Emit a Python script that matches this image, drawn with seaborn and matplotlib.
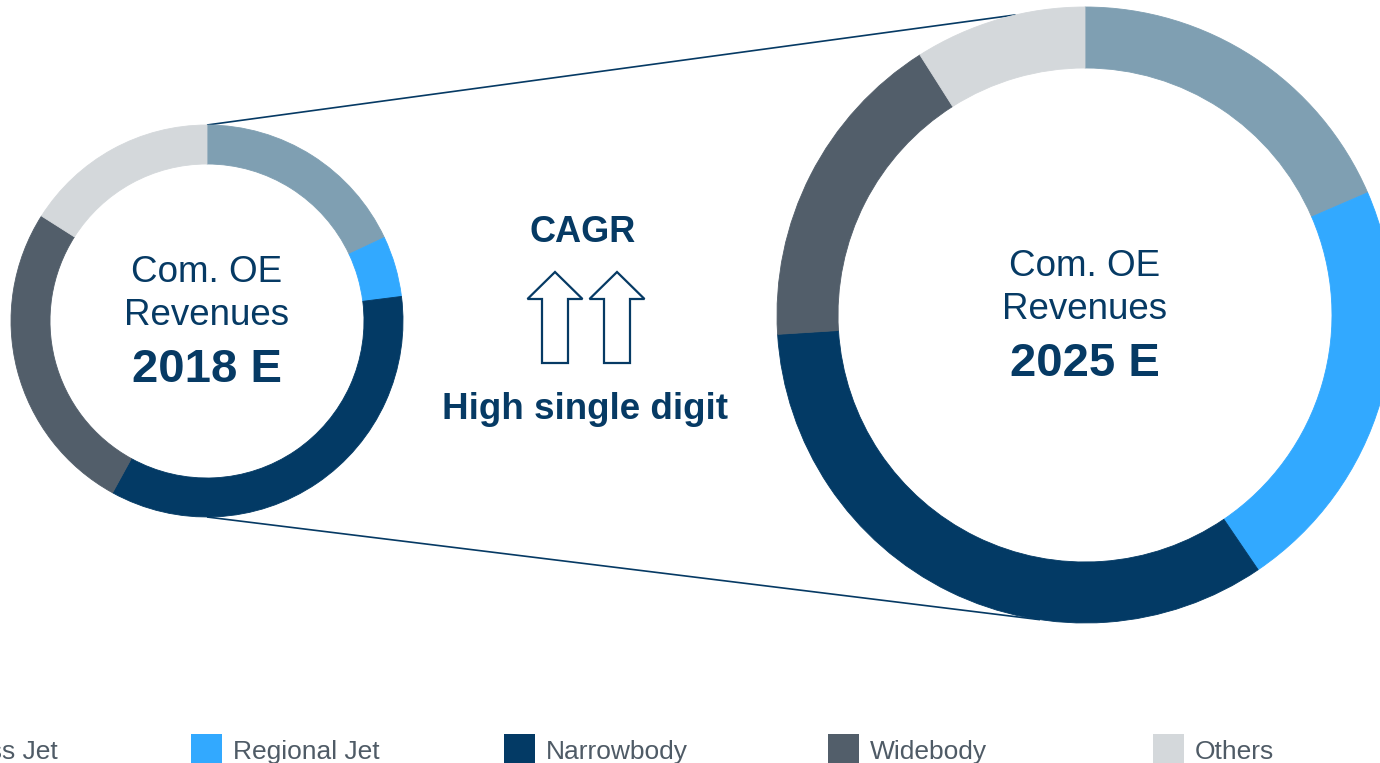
import numpy as np
import matplotlib
matplotlib.use("Agg")
import matplotlib.pyplot as plt
from matplotlib.patches import FancyArrow, Rectangle
import seaborn as sns

# Segment shares of commercial OE revenues (%)
segments = ["Business Jet", "Regional Jet", "Narrowbody", "Widebody", "Others"]
share_2018 = [18, 5, 35, 26, 16]
share_2025 = [18.5, 22, 33.5, 17, 9]
year_labels = ["2018 E", "2025 E"]
center_caption = "Com. OE\nRevenues"
cagr_title = "CAGR"
cagr_value = "High single digit"

palette = sns.color_palette(["#7F9FB2", "#32A9FF", "#033A65", "#525E6A", "#D4D8DB"])
navy = "#063A64"
legend_grey = "#4F5B66"

sns.set_theme(style="white")
plt.rcParams["font.family"] = ["Liberation Sans", "DejaVu Sans"]

W, H = 1380, 763
fig = plt.figure(figsize=(W / 100, H / 100), dpi=100)
ax = fig.add_axes([0, 0, 1, 1])

# donut geometry in pixel units (y up)
small = dict(cx=207, cy=H - 321, r=196, w=39)
large = dict(cx=1085, cy=H - 315, r=308, w=61)

for geo, shares in ((small, share_2018), (large, share_2025)):
    wedges, _ = ax.pie(shares, colors=palette, startangle=90, counterclock=False,
                       radius=geo["r"], center=(geo["cx"], geo["cy"]),
                       wedgeprops=dict(width=geo["w"], linewidth=0.6))
    for w in wedges:
        w.set_edgecolor(w.get_facecolor())

# connector lines from the small donut to the large one
def on_circle(geo, deg_from_top):
    a = np.deg2rad(deg_from_top)
    return geo["cx"] + geo["r"] * np.sin(a), geo["cy"] + geo["r"] * np.cos(a)

x0, y0 = on_circle(small, 0)
x1, y1 = on_circle(large, -13)
ax.plot([x0, x1], [y0, y1], color=navy, lw=1.2, zorder=0.5, solid_capstyle="butt")
x0, y0 = on_circle(small, 180)
x1, y1 = on_circle(large, 188.4)
ax.plot([x0, x1], [y0, y1], color=navy, lw=1.2, zorder=0.5, solid_capstyle="butt")

# captions inside the donuts
for geo, year in ((small, year_labels[0]), (large, year_labels[1])):
    first, second = center_caption.split("\n")
    ax.text(geo["cx"], geo["cy"] + 39, first, ha="center", va="baseline",
            fontsize=26.5, color=navy)
    ax.text(geo["cx"], geo["cy"] - 4, second, ha="center", va="baseline",
            fontsize=26.5, color=navy)
    ax.text(geo["cx"], geo["cy"] - 61, year, ha="center", va="baseline",
            fontsize=34, fontweight="bold", color=navy)

# growth arrows and CAGR text
for ax_x in (555, 617):
    ax.add_patch(FancyArrow(ax_x, H - 363, 0, 91, width=26, head_width=55,
                            head_length=27, length_includes_head=True,
                            fill=False, edgecolor=navy, lw=1.6))
ax.text(583, H - 242, cagr_title, ha="center", va="baseline",
        fontsize=26, fontweight="bold", color=navy)
ax.text(585, H - 419, cagr_value, ha="center", va="baseline",
        fontsize=26.5, fontweight="bold", color=navy)

# legend row along the bottom edge
legend_left = [-134, 191, 504, 828, 1153]
for xl, name, col in zip(legend_left, segments, palette):
    ax.add_patch(Rectangle((xl, H - 765), 31, 31, facecolor=col, edgecolor="none"))
    ax.text(xl + 42, H - 759, name, ha="left", va="baseline",
            fontsize=19, color=legend_grey)

ax.set_xlim(0, W)
ax.set_ylim(0, H)
ax.set_aspect("equal")
ax.axis("off")

fig.savefig("out.png", dpi=100, facecolor="white")
